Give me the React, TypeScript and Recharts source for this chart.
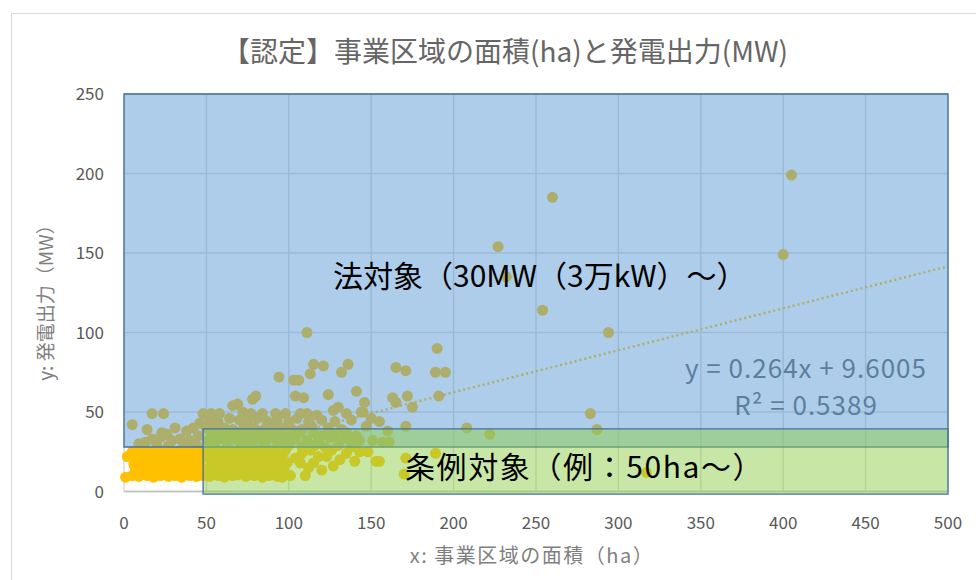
import React from 'react';
import { ScatterChart, Scatter, XAxis, YAxis, CartesianGrid, ReferenceLine, ReferenceArea } from 'recharts';

// axis ticks
const xTicks = [0, 50, 100, 150, 200, 250, 300, 350, 400, 450, 500];
const yTicks = [0, 50, 100, 150, 200, 250];

// [area ha, output MW] — isolated large plants
const farPlants: [number, number][] = [
  [405, 199], [400, 149], [260, 185], [227, 154], [232, 135], [254, 114], [294, 100], [190, 90],
  [111, 100], [283, 49], [287, 39], [317, 12], [208, 40], [222, 36], [189, 24], [171, 21],
  [170, 11], [155, 19],
];

// 50-80 MW group
const upperPlants: [number, number][] = [
  [165, 78], [171, 76], [189, 75], [195, 75], [115, 80], [121, 79], [136, 80], [132, 75],
  [113, 74], [94, 72], [103, 70], [106, 70], [78, 58], [80, 60], [69, 55], [104, 60],
  [109, 59], [124, 61], [141, 63], [146, 56], [145, 50], [163, 59], [165, 56], [172, 60],
  [175, 53], [191, 60], [155, 44], [171, 41], [130, 53], [144, 50], [64, 46],
];

// 28-50 MW band
const midPlants: [number, number][] = [
  [17, 49], [24, 49], [48, 49], [53, 49], [58, 49], [66, 54], [72, 50], [77, 49], [84, 49],
  [92, 49], [98, 49], [107, 49], [111, 49], [117, 48], [127, 51], [135, 49],
  [5, 42], [46, 43], [52, 45], [57, 44], [70, 45], [75, 44], [81, 46], [87, 44], [93, 45],
  [100, 44], [105, 46], [112, 44], [120, 45], [128, 44], [138, 45], [150, 46],
  [14, 39], [31, 40], [42, 40], [50, 40], [55, 41], [61, 40], [66, 39], [73, 41], [79, 40],
  [85, 39], [90, 41], [96, 40], [102, 39], [108, 39], [114, 41], [124, 40], [132, 39], [147, 41],
  [160, 38], [23, 37], [26, 36], [38, 38], [53, 36], [59, 37], [64, 36], [70, 37], [76, 36],
  [82, 37], [88, 36], [94, 37], [99, 34], [107, 37], [115, 37], [120, 35], [127, 36], [135, 37],
  [141, 35], [13, 31], [17, 33], [22, 34], [29, 32], [34, 33], [40, 32], [45, 35], [51, 32],
  [57, 33], [62, 32], [68, 33], [74, 32], [80, 33], [86, 32], [92, 33], [98, 32], [104, 33],
  [111, 32], [118, 33], [125, 34], [131, 32], [137, 33], [143, 32], [151, 32], [157, 31], [161, 31],
  [9, 30], [20, 29], [27, 29], [36, 30], [44, 29], [55, 29], [63, 28], [71, 29], [78, 28],
  [85, 29], [93, 28], [100, 29], [108, 28], [116, 29], [122, 28], [130, 29], [138, 28],
];

// small plants, under 50 ha
const smallPlants: [number, number][] = [
  [1, 9], [5, 10], [9, 9.5], [14, 10], [18, 9], [22, 10], [27, 9.5], [31, 10], [35, 9], [40, 10],
  [44, 9.5], [48, 10], [7, 14], [12, 14], [17, 13.5], [21, 14], [26, 13], [30, 14], [34, 13.5],
  [39, 14], [43, 13], [47, 14], [6, 17], [11, 18], [15, 17], [20, 18], [24, 17.5], [29, 18],
  [33, 17], [37, 18], [42, 17.5], [46, 18], [2, 22], [7, 21], [12, 22], [16, 21], [21, 22],
  [25, 21], [30, 22], [35, 21.5], [39, 22], [44, 21], [48, 22], [5, 25], [10, 26], [14, 25],
  [19, 26], [23, 25], [28, 26], [32, 25], [37, 26], [41, 25], [46, 26],
];

// 50-160 ha, under 28 MW
const ordinancePlants: [number, number][] = [
  [52, 9.5], [57, 10], [61, 9], [66, 10], [69, 10.5], [74, 9.5], [79, 10], [84, 9], [88, 10],
  [93, 9.5], [96, 9], [51, 14], [55, 13], [60, 14], [64, 13.5], [69, 14], [73, 13], [78, 14],
  [82, 13.5], [87, 14], [91, 13], [97, 14], [53, 18], [58, 17], [62, 18], [67, 17.5], [71, 18],
  [76, 17], [80, 18], [85, 17.5], [89, 18], [94, 17], [99, 18], [50, 22], [55, 21], [59, 22],
  [64, 21.5], [68, 22], [73, 21], [78, 22], [82, 21], [87, 22], [91, 21.5], [96, 22], [52, 26],
  [57, 25], [61, 26], [66, 25], [71, 26], [75, 25.5], [80, 26], [84, 25], [89, 26], [94, 25],
  [98, 26], [101, 10], [107, 18], [112, 15], [115, 18], [120, 13.5], [123, 22], [131, 20],
  [104, 21], [108, 24], [113, 26], [118, 22], [126, 26], [135, 24], [143, 25], [148, 25],
  [140, 19], [153, 19], [110, 10], [127, 16], [96, 15],
];

const trendSlope = 0.264;
const trendIntercept = 9.6005;

const plants = [...farPlants, ...upperPlants, ...midPlants, ...smallPlants, ...ordinancePlants].map(
  ([x, y]) => ({ x, y })
);

const W = 976;
const H = 580;
const FONT = '"Noto Sans CJK JP", "Noto Sans", sans-serif';

const Dot = (props: any) => <circle cx={props.cx} cy={props.cy} r={5.5} fill="#FFC000" />;
const NoDot = () => <g />;

export default function App() {
  return (
    <div style={{ position: 'absolute', left: 0, top: 0, width: W, height: H, background: '#fff', overflow: 'hidden', fontFamily: FONT }}>
      <div style={{ position: 'absolute', left: 11, top: 13, width: 1000, height: 600, border: '1px solid #D9D9D9' }} />

      {/* points, grid and trend line */}
      <div style={{ position: 'absolute', left: 0, top: 0 }}>
        <ScatterChart width={W} height={H} margin={{ top: 94, right: 28, bottom: 28.5, left: 0 }}>
          <CartesianGrid stroke="#D9D9D9" strokeWidth={1.5} horizontalValues={yTicks} verticalValues={xTicks} />
          <XAxis
            type="number"
            dataKey="x"
            domain={[0, 500]}
            ticks={xTicks}
            height={60}
            tickLine={false}
            axisLine={{ stroke: '#BFBFBF', strokeWidth: 1.5 }}
            tickSize={16}
            tickMargin={9}
            tick={{ fill: '#595959', fontSize: 17, fontFamily: FONT }}
          />
          <YAxis
            type="number"
            dataKey="y"
            domain={[0, 250]}
            ticks={yTicks}
            width={124}
            tickLine={false}
            axisLine={false}
            tickSize={12}
            tickMargin={8}
            tick={{ fill: '#595959', fontSize: 17, fontFamily: FONT }}
          />
          <Scatter data={plants} shape={Dot} isAnimationActive={false} />
          <ReferenceLine
            segment={[
              { x: 0, y: trendIntercept },
              { x: 500, y: trendIntercept + trendSlope * 500 },
            ]}
            stroke="#FFC000"
            strokeWidth={2.5}
            strokeDasharray="2 3"
          />
        </ScatterChart>
      </div>

      {/* translucent zones drawn over the points */}
      <div style={{ position: 'absolute', left: 0, top: 0, pointerEvents: 'none' }}>
        <ScatterChart width={W} height={H} margin={{ top: 94, right: 28, bottom: 28.5, left: 0 }}>
          <XAxis type="number" dataKey="x" domain={[0, 500]} ticks={xTicks} height={60} tick={false} axisLine={false} tickLine={false} />
          <YAxis type="number" dataKey="y" domain={[0, 250]} ticks={yTicks} width={124} tick={false} axisLine={false} tickLine={false} />
          <Scatter data={plants} shape={NoDot} isAnimationActive={false} />
          <ReferenceArea x1={0} x2={500} y1={28} y2={250} fill="#5B9BD5" fillOpacity={0.5} stroke="#41719C" strokeWidth={1.3} ifOverflow="visible" />
          <ReferenceArea x1={48} x2={500} y1={-1.6} y2={39.4} fill="#92D050" fillOpacity={0.5} stroke="#41719C" strokeWidth={1.3} ifOverflow="visible" />
        </ScatterChart>
      </div>

      <div style={{ position: 'absolute', left: 0, width: 1010, top: 32, textAlign: 'center', fontSize: 28, color: '#666', whiteSpace: 'nowrap', lineHeight: '36px' }}>
        【認定】事業区域の面積(ha)と発電出力(MW)
      </div>

      <div style={{ position: 'absolute', left: 0, width: 1064, top: 541, textAlign: 'center', fontSize: 20, letterSpacing: 1.5, color: '#7F7F7F', whiteSpace: 'nowrap', lineHeight: '28px' }}>
        x: 事業区域の面積（ha）
      </div>
      <div style={{ position: 'absolute', left: 45, top: 298, transform: 'translate(-50%, -50%) rotate(-90deg)', fontSize: 19, color: '#7F7F7F', whiteSpace: 'nowrap', lineHeight: '26px' }}>
        y: 発電出力（MW）
      </div>

      <div style={{ position: 'absolute', left: 333, top: 255, fontSize: 30, color: '#000', whiteSpace: 'nowrap', lineHeight: '38px' }}>
        法対象（30MW（3万kW）～）
      </div>
      <div style={{ position: 'absolute', left: 405, top: 446, fontSize: 30, letterSpacing: 1.6, color: '#000', whiteSpace: 'nowrap', lineHeight: '38px' }}>
        条例対象（例：50ha～）
      </div>

      <div style={{ position: 'absolute', left: 606, width: 400, top: 351, textAlign: 'center', fontSize: 26, letterSpacing: 1, color: '#5E7E9E', whiteSpace: 'nowrap', lineHeight: '32px' }}>
        y = 0.264x + 9.6005
      </div>
      <div style={{ position: 'absolute', left: 606, width: 400, top: 388, textAlign: 'center', fontSize: 26, letterSpacing: 1, color: '#5E7E9E', whiteSpace: 'nowrap', lineHeight: '32px' }}>
        R² = 0.5389
      </div>
    </div>
  );
}
